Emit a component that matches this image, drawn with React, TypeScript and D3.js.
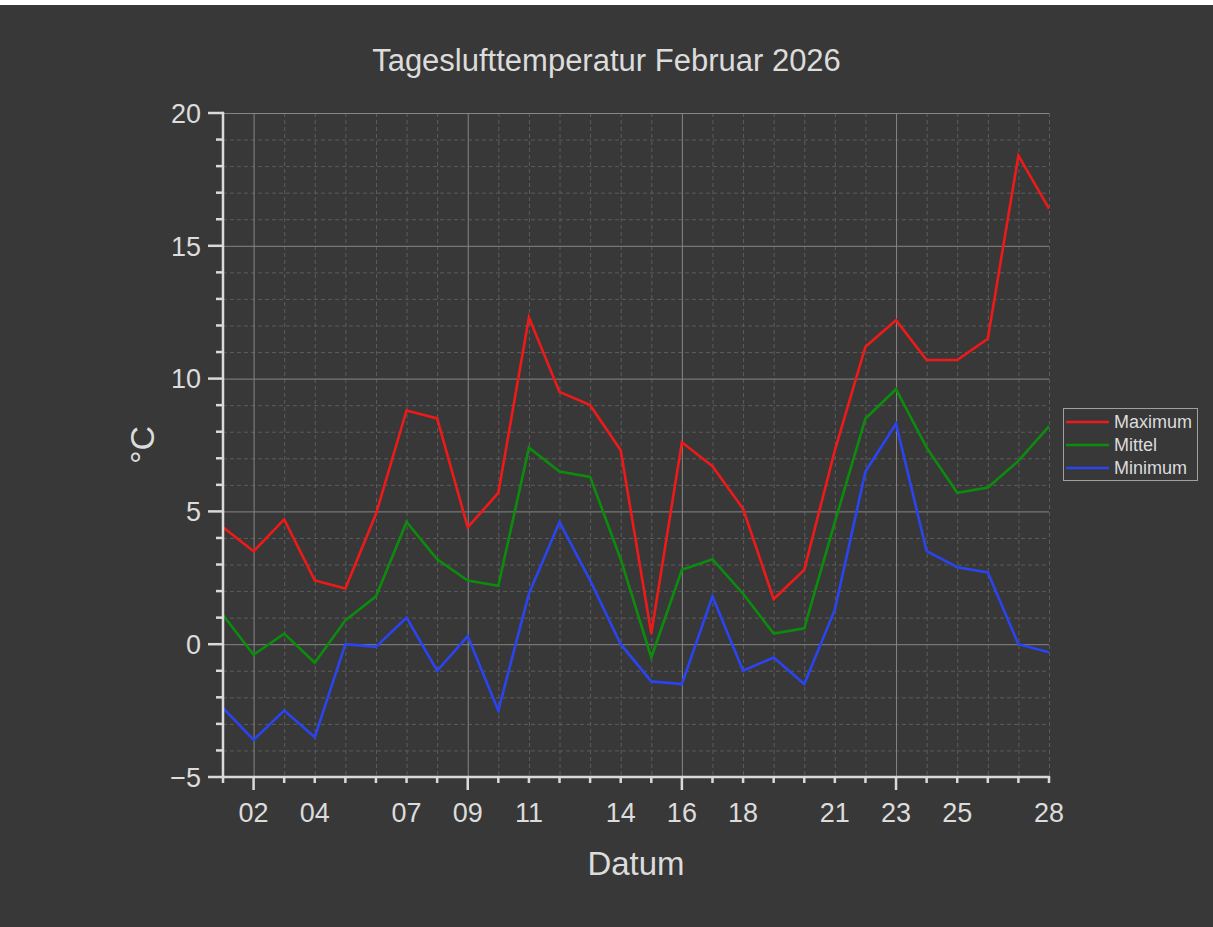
import React from "react";
import * as d3 from "d3";

// Tageslufttemperatur Februar 2026 (°C)
const days = [1, 2, 3, 4, 5, 6, 7, 8, 9, 10, 11, 12, 13, 14, 15, 16, 17, 18, 19, 20, 21, 22, 23, 24, 25, 26, 27, 28];
const maxTemp = [4.4, 3.5, 4.7, 2.4, 2.1, 4.9, 8.8, 8.5, 4.4, 5.7, 12.3, 9.5, 9.0, 7.3, 0.4, 7.6, 6.7, 5.1, 1.7, 2.8, 7.3, 11.2, 12.2, 10.7, 10.7, 11.5, 18.4, 16.4];
const meanTemp = [1.1, -0.4, 0.4, -0.7, 0.9, 1.8, 4.6, 3.2, 2.4, 2.2, 7.4, 6.5, 6.3, 3.2, -0.5, 2.8, 3.2, 1.9, 0.4, 0.6, 4.6, 8.5, 9.6, 7.4, 5.7, 5.9, 6.9, 8.2];
const minTemp = [-2.4, -3.6, -2.5, -3.5, 0.0, -0.1, 1.0, -1.0, 0.3, -2.5, 1.9, 4.6, 2.4, 0.0, -1.4, -1.5, 1.8, -1.0, -0.5, -1.5, 1.3, 6.5, 8.3, 3.5, 2.9, 2.7, 0.0, -0.3];

const xLabelDays = [2, 4, 7, 9, 11, 14, 16, 18, 21, 23, 25, 28];
const weekDays = [2, 9, 16, 23];
const yMajor = [-5, 0, 5, 10, 15, 20];

const seriesNames = ["Maximum", "Mittel", "Minimum"];
const seriesColors = ["#ee1a1a", "#0c8c0c", "#2a44f0"];

const W = 1213;
const H = 927;
const BG = "#383838";
const FG = "#dcdcdc";
const FONT = "'Liberation Sans', Arial, sans-serif";

export default function App() {
  const x = d3.scaleLinear().domain([1, 28]).range([223, 1049]);
  const y = d3.scaleLinear().domain([-5, 20]).range([777, 113]);

  const series = [maxTemp, meanTemp, minTemp];
  const line = d3
    .line<number>()
    .x((_, i) => x(days[i]))
    .y((d) => y(d));

  const yMinor = d3.range(-5, 21, 1);

  return (
    <div style={{ position: "absolute", left: 0, top: 0 }}>
      <svg width={W} height={H} style={{ display: "block" }}>
        <rect x={0} y={0} width={W} height={H} fill={BG} />
        <rect x={0} y={0} width={W} height={5} fill="#ffffff" />

        {/* title */}
        <text x={W / 2} y={71} textAnchor="middle" fill={FG} fontSize={31} fontFamily={FONT}>
          Tageslufttemperatur Februar 2026
        </text>

        {/* minor grid */}
        <g stroke="#5c5c5c" strokeWidth={1} strokeDasharray="4,3">
          {days
            .filter((d) => d > 1 && !weekDays.includes(d))
            .map((d) => (
              <line key={"vx" + d} x1={x(d) + 0.5} x2={x(d) + 0.5} y1={y(20)} y2={y(-5)} />
            ))}
          {yMinor
            .filter((v) => v % 5 !== 0)
            .map((v) => (
              <line key={"hy" + v} x1={x(1)} x2={x(28)} y1={y(v) + 0.5} y2={y(v) + 0.5} />
            ))}
        </g>

        {/* major grid */}
        <g stroke="#858585" strokeWidth={1}>
          {weekDays.map((d) => (
            <line key={"mx" + d} x1={x(d) + 0.5} x2={x(d) + 0.5} y1={y(20)} y2={y(-5)} />
          ))}
          {yMajor
            .filter((v) => v > -5)
            .map((v) => (
              <line key={"my" + v} x1={x(1)} x2={x(28)} y1={y(v) + 0.5} y2={y(v) + 0.5} />
            ))}
        </g>

        {/* data lines */}
        {series.map((s, i) => (
          <path
            key={seriesNames[i]}
            d={line(s) || ""}
            fill="none"
            stroke={seriesColors[i]}
            strokeWidth={2.6}
            strokeLinejoin="miter"
          />
        ))}

        {/* y axis */}
        <g stroke="#dadada" strokeWidth={2.5}>
          <line x1={x(1)} x2={x(1)} y1={y(20) - 1.2} y2={y(-5) + 1.2} />
          {yMinor.map((v) => (
            <line
              key={"yt" + v}
              x1={x(1) - (v % 5 === 0 ? 15 : 7)}
              x2={x(1)}
              y1={y(v)}
              y2={y(v)}
            />
          ))}
        </g>
        {yMajor.map((v) => (
          <text
            key={"yl" + v}
            x={201}
            y={y(v)}
            dy="0.36em"
            textAnchor="end"
            fill={FG}
            fontSize={27}
            fontFamily={FONT}
          >
            {v < 0 ? "\u2212" + Math.abs(v) : v}
          </text>
        ))}

        {/* x axis */}
        <g stroke="#dadada" strokeWidth={2.5}>
          <line x1={x(1) - 1.2} x2={x(28) + 1.2} y1={y(-5)} y2={y(-5)} />
          {days.map((d) => (
            <line
              key={"xt" + d}
              x1={x(d)}
              x2={x(d)}
              y1={y(-5)}
              y2={y(-5) + (weekDays.includes(d) ? 13 : 6)}
            />
          ))}
        </g>
        {xLabelDays.map((d) => (
          <text
            key={"xl" + d}
            x={x(d)}
            y={822}
            textAnchor="middle"
            fill={FG}
            fontSize={27}
            fontFamily={FONT}
          >
            {d3.format("02d")(d)}
          </text>
        ))}

        {/* axis titles */}
        <text x={636} y={875} textAnchor="middle" fill={FG} fontSize={33} fontFamily={FONT}>
          Datum
        </text>
        <text
          transform="translate(154,445) rotate(-90)"
          textAnchor="middle"
          fill={FG}
          fontSize={34}
          fontFamily={FONT}
        >
          °C
        </text>

        {/* legend */}
        <rect x={1063.5} y={408.5} width={134} height={72} fill={BG} stroke="#a0a0a0" strokeWidth={1} />
        {seriesNames.map((name, i) => (
          <g key={"lg" + name} transform={`translate(0, ${422 + i * 23})`}>
            <line x1={1066} x2={1109} y1={0} y2={0} stroke={seriesColors[i]} strokeWidth={2.6} />
            <text x={1114} y={0} dy="0.36em" fill={FG} fontSize={18} fontFamily={FONT}>
              {name}
            </text>
          </g>
        ))}
      </svg>
    </div>
  );
}
